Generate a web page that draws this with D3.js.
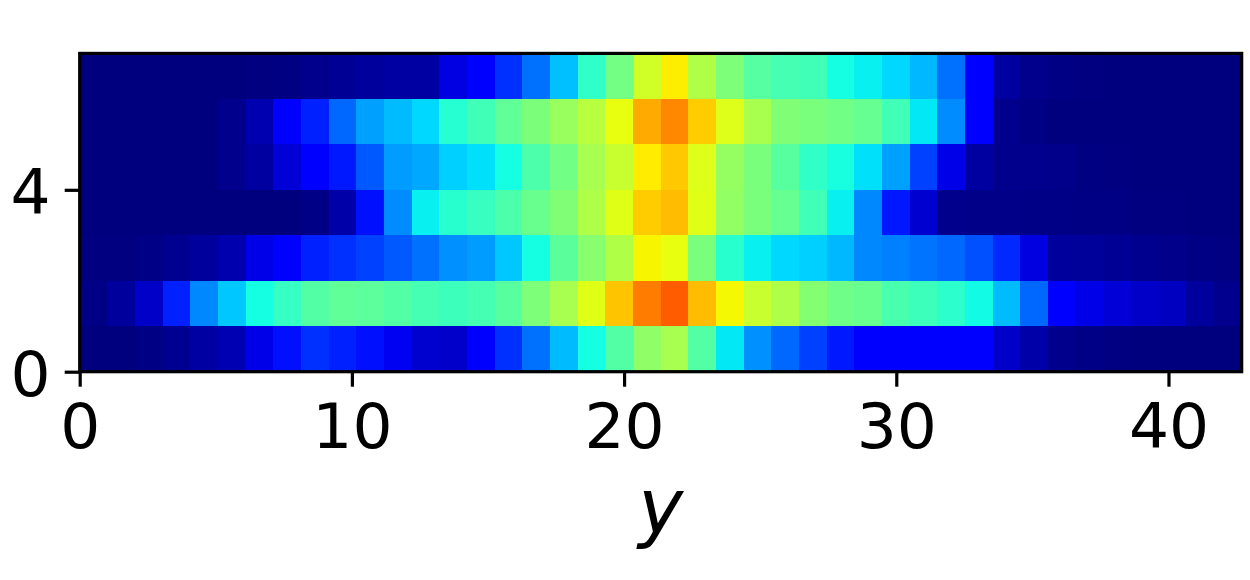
<!DOCTYPE html>
<html>
<head>
<meta charset="utf-8">
<script src="https://cdn.jsdelivr.net/npm/d3@7"></script>
<style>
  body { margin: 0; background: #fff; }
  text { font-family: "DejaVu Sans", sans-serif; fill: #000; }
</style>
</head>
<body>
<svg width="1250" height="580"></svg>
<script>
const xTicks = [0, 10, 20, 30, 40];
const yTicks = [0, 4];

// one list per row, bottom row first, 42 columns each
const row0 = [0, 0, .005, .015, .03, .045, .09, .141, .172, .156, .141, .1, .069, .065, .11, .172, .235, .309, .375, .45, .525, .554, .45, .352, .266, .227, .188, .149, .115, .11, .11, .11, .11, .0625, .035, .012, .006, .002, 0, 0, 0, 0];
const row1 = [.006, .025, .0625, .156, .258, .321, .375, .414, .45, .467, .462, .45, .434, .423, .434, .457, .502, .554, .622, .702, .779, .813, .711, .647, .593, .563, .512, .485, .477, .438, .423, .403, .372, .309, .227, .11, .09, .076, .0625, .056, .025, .012];
const row2 = [.002, .002, .006, .015, .025, .04, .09, .11, .156, .172, .188, .211, .235, .266, .278, .321, .375, .46, .515, .564, .65, .632, .498, .399, .36, .337, .329, .305, .258, .25, .239, .227, .203, .164, .083, .025, .023, .018, .014, .01, .004, .002];
const row3 = [0, 0, 0, 0, 0, 0, 0, 0, .006, .035, .141, .262, .36, .399, .418, .442, .477, .506, .563, .622, .694, .711, .622, .528, .498, .473, .428, .36, .258, .149, .069, .012, .008, .008, .007, .007, .004, .004, .002, .002, 0, 0];
const row4 = [0, 0, 0, 0, 0, .012, .028, .076, .11, .149, .211, .278, .29, .329, .345, .375, .442, .488, .554, .593, .66, .698, .619, .531, .498, .457, .408, .379, .345, .282, .188, .09, .028, .012, .012, .01, .003, .002, 0, 0, 0, 0];
const row5 = [0, 0, 0, 0, 0, .012, .042, .11, .156, .227, .282, .309, .337, .395, .428, .467, .5, .535, .574, .632, .73, .766, .694, .619, .556, .506, .498, .488, .473, .428, .352, .262, .11, .012, .004, 0, 0, 0, 0, 0, 0, 0];
const row6 = [0, 0, 0, 0, 0, 0, .002, .003, .012, .018, .025, .03, .03, .083, .11, .172, .235, .313, .408, .49, .603, .658, .564, .502, .453, .434, .428, .375, .36, .337, .305, .235, .11, .028, .012, .004, .002, 0, 0, 0, 0, 0];
const rows = [row0, row1, row2, row3, row4, row5, row6];

// matplotlib jet
const jetR = d3.scaleLinear().domain([0, .35, .66, .89, 1]).range([0, 0, 255, 255, 127]);
const jetG = d3.scaleLinear().domain([0, .125, .375, .64, .91, 1]).range([0, 0, 255, 255, 0, 0]);
const jetB = d3.scaleLinear().domain([0, .11, .34, .65, 1]).range([127, 255, 255, 0, 0]);
const jet = v => d3.rgb(jetR(v), jetG(v), jetB(v)).formatHex();

const svg = d3.select("svg");
const plotLeft = 79.7, plotRight = 1241.7, plotTop = 53.4, plotBottom = 371.7;

const x = d3.scaleLinear().domain([0, 42.69]).range([plotLeft, plotRight]);
const y = d3.scaleLinear().domain([0, 7]).range([plotBottom, plotTop]);
const col = d3.scaleLinear().domain([0, 42]).range([plotLeft, plotRight]);

const cells = rows.flatMap((r, j) => r.map((v, i) => ({ i, j, v })));

svg.selectAll("rect.cell")
  .data(cells)
  .enter().append("rect")
  .attr("class", "cell")
  .attr("x", d => col(d.i))
  .attr("y", d => y(d.j + 1))
  .attr("width", d => col(d.i + 1) - col(d.i))
  .attr("height", d => y(d.j) - y(d.j + 1))
  .attr("shape-rendering", "crispEdges")
  .attr("fill", d => jet(d.v));

const xAxis = svg.append("g")
  .attr("transform", `translate(0,${plotBottom})`)
  .call(d3.axisBottom(x).tickValues(xTicks).tickFormat(d3.format("d")).tickSize(15).tickPadding(17));

const yAxis = svg.append("g")
  .attr("transform", `translate(${plotLeft},0)`)
  .call(d3.axisLeft(y).tickValues(yTicks).tickFormat(d3.format("d")).tickSize(15).tickPadding(14));

[xAxis, yAxis].forEach(g => {
  g.select(".domain").remove();
  g.selectAll("line").attr("stroke", "#000").attr("stroke-width", 3.2);
  g.selectAll("text").style("font-size", "63px").style("font-family", '"DejaVu Sans", sans-serif');
});
yAxis.selectAll("text").attr("dy", ".37em");

svg.append("rect")
  .attr("x", plotLeft)
  .attr("y", plotTop)
  .attr("width", plotRight - plotLeft)
  .attr("height", plotBottom - plotTop)
  .attr("fill", "none")
  .attr("stroke", "#000")
  .attr("stroke-width", 3.2);

svg.append("text")
  .attr("x", (plotLeft + plotRight) / 2)
  .attr("y", 533)
  .attr("text-anchor", "middle")
  .style("font-size", "76px")
  .style("font-style", "italic")
  .text("y");
</script>
</body>
</html>
